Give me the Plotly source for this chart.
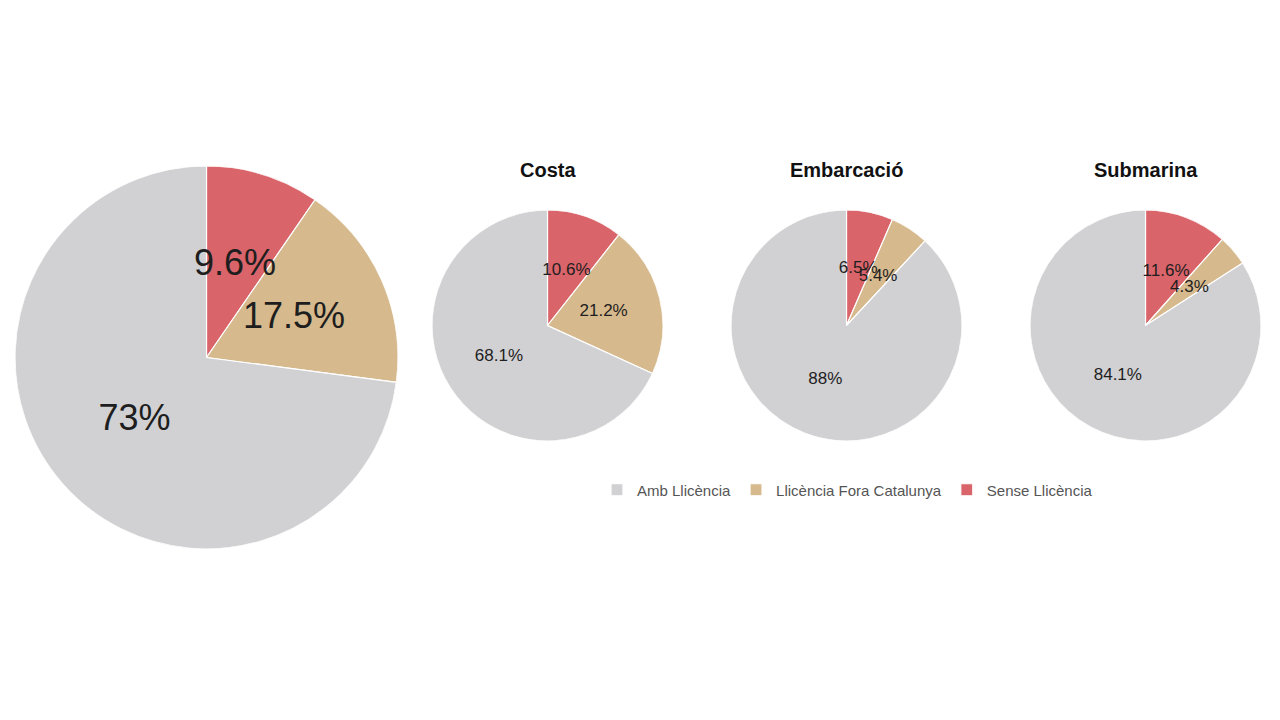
import plotly.graph_objects as go

categories = ['Sense Llicència', 'Llicència Fora Catalunya', 'Amb Llicència']
colors = ['#d9646a', '#d6b98d', '#d1d1d3']

total_vals = [9.6, 17.5, 73]
costa_vals = [10.6, 21.2, 68.1]
embarcacio_vals = [6.5, 5.4, 88]
submarina_vals = [11.6, 4.3, 84.1]

panel_titles = ['Costa', 'Embarcació', 'Submarina']

W, H = 1280, 720
OFF = 8  # page body margin in the browser
FONT = 'Liberation Sans, Arial, sans-serif'


def dom(x0, x1, y0, y1):
    # screen pixel box -> paper domain
    return dict(x=[(x0 - OFF) / W, (x1 - OFF) / W],
                y=[1 - (y1 - OFF) / H, 1 - (y0 - OFF) / H])


def fmt(v):
    return f'{v:g}%'


def angles(vals):
    tot = sum(vals)
    mids, widths, start = [], [], 0.0
    for v in vals:
        widths.append(360 * v / tot)
        mids.append(360 * (start + v / 2) / tot)
        start += v
    return mids, widths


# (values, pixel box, label size)
pies = [
    (total_vals, (15, 398, 166, 549), 36),
    (costa_vals, (432, 663, 210, 441), 17),
    (embarcacio_vals, (731, 962, 210, 441), 17),
    (submarina_vals, (1030, 1261, 210, 441), 17),
]

fig = go.Figure()
layout_polars = {}
for k, (vals, box, fsize) in enumerate(pies):
    sub = 'polar' if k == 0 else f'polar{k + 1}'
    mids, widths = angles(vals)
    for i, cat in enumerate(categories):
        fig.add_trace(go.Barpolar(
            r=[1], theta=[mids[i]], width=[widths[i]], base=0,
            name=cat, legendgroup=cat, showlegend=(k == 1),
            legendrank=3 - i,
            marker=dict(color=colors[i], line=dict(color='white', width=1.2)),
            subplot=sub, hovertemplate=f'{cat}: {fmt(vals[i])}<extra></extra>',
        ))
    fig.add_trace(go.Scatterpolar(
        r=[0.5] * len(vals), theta=mids, mode='text',
        text=[fmt(v) for v in vals],
        textfont=dict(family=FONT, size=fsize, color='#1e1e1e'),
        showlegend=False, hoverinfo='skip', subplot=sub,
    ))
    layout_polars[sub] = dict(
        domain=dom(*box), bgcolor='rgba(0,0,0,0)', bargap=0, hole=0,
        radialaxis=dict(visible=False, range=[0, 1]),
        angularaxis=dict(visible=False, rotation=90, direction='clockwise'),
    )

for t, (vals, box, fsize) in zip(panel_titles, pies[1:]):
    fig.add_annotation(text=f'<b>{t}</b>', x=((box[0] + box[1]) / 2 - OFF) / W,
                       y=1 - (170 - OFF) / H, xref='paper', yref='paper',
                       xanchor='center', yanchor='middle', showarrow=False,
                       font=dict(family=FONT, size=20, color='#111111'))

fig.update_layout(
    width=W, height=H,
    margin=dict(l=0, r=0, t=0, b=0),
    paper_bgcolor='white', plot_bgcolor='white',
    legend=dict(orientation='h', x=(597 - OFF) / W, y=1 - (490 - OFF) / H,
                xanchor='left', yanchor='middle',
                font=dict(family=FONT, size=15, color='#555555')),
    **layout_polars,
)

fig.write_html('out.html')
